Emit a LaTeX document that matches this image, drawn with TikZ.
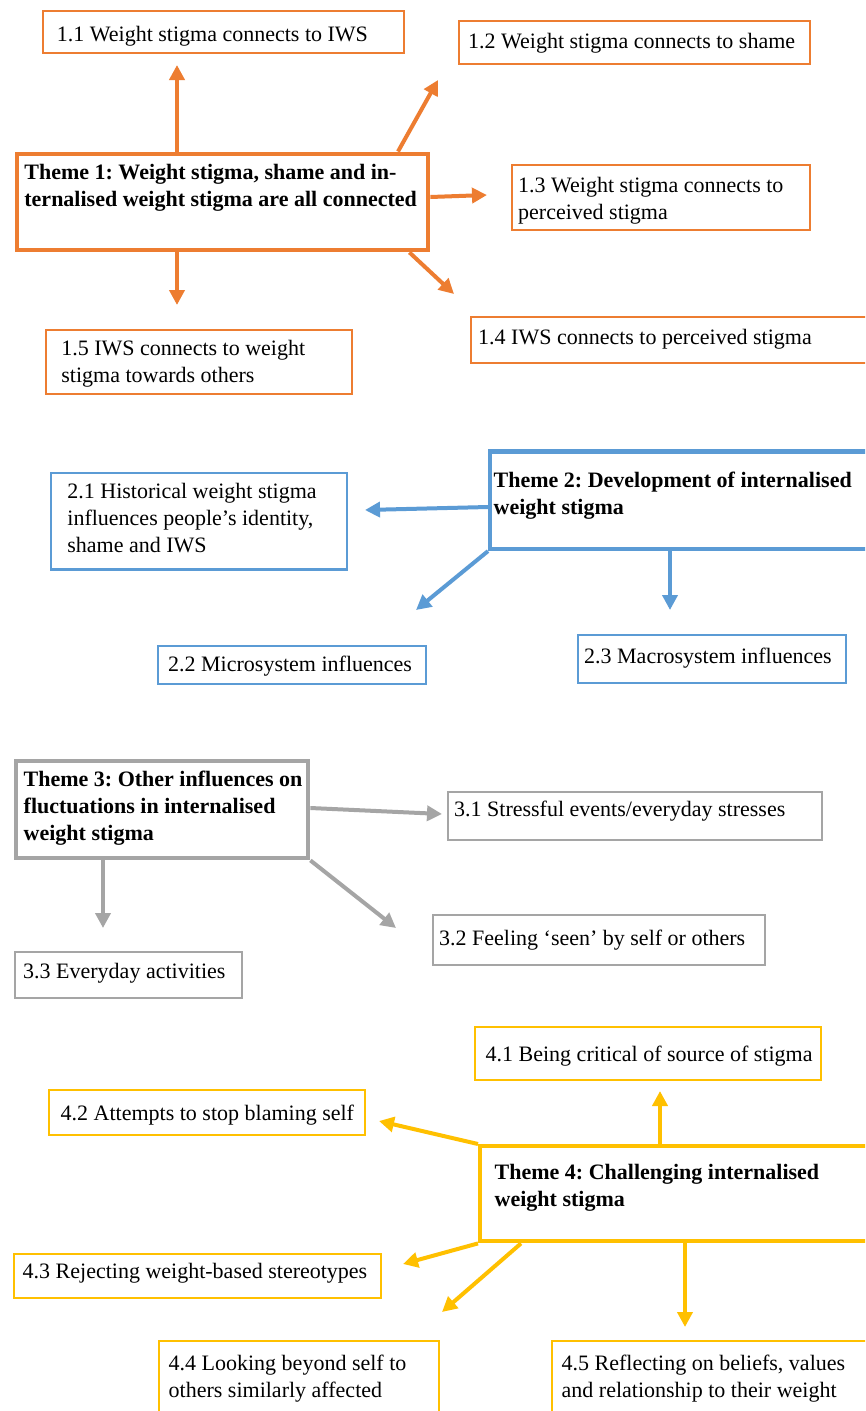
\documentclass[tikz,border=0pt]{standalone}
\usepackage{fontspec}
\setmainfont{Liberation Serif}
\usetikzlibrary{arrows.meta}
\definecolor{corange}{HTML}{ED7D31}
\definecolor{cblue}{HTML}{5B9BD5}
\definecolor{cgray}{HTML}{A5A5A5}
\definecolor{cyellow}{HTML}{FFC000}
\frenchspacing
\newcommand{\bt}[5]{\hspace*{#3pt}\parbox[c][#2pt][t]{\dimexpr #1pt-#3pt\relax}{\raggedright\frenchspacing\vspace*{#4pt}\strut #5}}
\begin{document}
\begin{tikzpicture}[x=1pt,y=-1pt,
  font=\fontsize{22}{27}\selectfont,
  sub/.style={draw=#1,line width=2.4pt,inner sep=0pt,anchor=north west},
  theme/.style={draw=#1,line width=4.4pt,inner sep=0pt,anchor=north west,font=\fontsize{22}{27}\selectfont\bfseries},
  arr/.style={draw=#1,line width=4pt,-{Triangle[length=15pt,width=15pt]}}]
\useasboundingbox (0,0) rectangle (865,1411);
\clip (0,0) rectangle (865,1411);
\fill[white] (0,0) rectangle (865,1411);
% Theme 1
\node[theme=corange] (t1) at (15,151.5) {\bt{411}{96.5}{7.2}{7.0}{Theme 1: Weight stigma, shame and in-\\ternalised weight stigma are all connected}};
\node[sub=corange] (b11) at (41.5,10) {\bt{361.5}{41.5}{14.2}{11.7}{1.1 Weight stigma connects to IWS}};
\node[sub=corange] (b12) at (458,20) {\bt{351}{43}{9}{8.2}{1.2 Weight stigma connects to shame}};
\node[sub=corange] (b13) at (511,164) {\bt{298}{65}{6}{8.2}{1.3 Weight stigma connects to\\perceived stigma}};
\node[sub=corange] (b14) at (470,316) {\bt{400}{46}{7}{8.2}{1.4 IWS connects to perceived stigma}};
\node[sub=corange] (b15) at (45,329) {\bt{305.7}{64}{15.2}{6.2}{1.5 IWS connects to weight\\stigma towards others}};
\coordinate (e11) at (177,65);
\coordinate (e12) at (438,80);
\coordinate (e13) at (487,195);
\coordinate (e14) at (454,294);
\coordinate (e15) at (177,305);
\draw[arr=corange] ([xshift=162pt]t1.north west) -- (e11);
\draw[arr=corange] ([xshift=383pt]t1.north west) -- (e12);
\draw[arr=corange] ([yshift=-45.5pt]t1.north east) -- (e13);
\draw[arr=corange] ([xshift=-21pt]t1.south east) -- (e14);
\draw[arr=corange] ([xshift=162pt]t1.south west) -- (e15);
% Theme 2
\node[theme=cblue] (t2) at (488,449.3) {\bt{382}{97.4}{3.5}{17}{Theme 2: Development of internalised\\weight stigma}};
\node[sub=cblue] (b21) at (50,471.7) {\bt{296}{96.6}{16.2}{6.8}{2.1 Historical weight stigma\\influences people’s identity,\\shame and IWS}};
\node[sub=cblue] (b22) at (157,645) {\bt{268}{38}{10}{6.2}{2.2 Microsystem influences}};
\node[sub=cblue] (b23) at (577,634) {\bt{268}{48}{6}{9.2}{2.3 Macrosystem influences}};
\coordinate (e21) at (365,510);
\coordinate (e22) at (416,610);
\coordinate (e23) at (670,610);
\draw[arr=cblue] ([yshift=-57.7pt]t2.north west) -- (e21);
\draw[arr=cblue] (t2.south west) -- (e22);
\draw[arr=cblue] ([xshift=182pt]t2.south west) -- (e23);
% Theme 3
\node[theme=cgray] (t3) at (14,759) {\bt{292}{97}{7.5}{6.2}{Theme 3: Other influences on\\fluctuations in internalised\\weight stigma}};
\node[sub=cgray] (b31) at (447,791) {\bt{374}{48}{6}{5.2}{3.1 Stressful events/everyday stresses}};
\node[sub=cgray] (b32) at (432,914) {\bt{332}{50}{6}{11.2}{3.2 Feeling ‘seen’ by self or others}};
\node[sub=cgray] (b33) at (14,951) {\bt{227}{46}{8}{7.2}{3.3 Everyday activities}};
\coordinate (e31) at (442,814);
\coordinate (e32) at (396,928);
\coordinate (e33) at (103,928);
\draw[arr=cgray] ([yshift=-49pt]t3.north east) -- (e31);
\draw[arr=cgray] (t3.south east) -- (e32);
\draw[arr=cgray] ([xshift=89pt]t3.south west) -- (e33);
% Theme 4
\node[theme=cyellow] (t4) at (478,1144) {\bt{392}{95}{14.5}{14.2}{Theme 4: Challenging internalised\\weight stigma}};
\node[sub=cyellow] (b41) at (474,1026) {\bt{346}{53}{10.5}{15.2}{4.1 Being critical of source of stigma}};
\node[sub=cyellow] (b42) at (48,1089) {\bt{316}{45}{11.5}{11.2}{4.2 Attempts to stop blaming self}};
\node[sub=cyellow] (b43) at (13,1253) {\bt{367}{44}{8.5}{5.2}{4.3 Rejecting weight-based stereotypes}};
\node[sub=cyellow] (b44) at (158,1340) {\bt{280}{80}{9.5}{10.2}{4.4 Looking beyond self to\\others similarly affected}};
\node[sub=cyellow] (b45) at (551,1340) {\bt{319}{80}{9.5}{10.2}{4.5 Reflecting on beliefs, values\\and relationship to their weight}};
\coordinate (e41) at (660,1091);
\coordinate (e42) at (379,1121);
\coordinate (e43) at (403,1264);
\coordinate (e44) at (442,1312);
\coordinate (e45) at (685,1327);
\draw[arr=cyellow] ([xshift=182pt]t4.north west) -- (e41);
\draw[arr=cyellow] (t4.north west) -- (e42);
\draw[arr=cyellow] (t4.south west) -- (e43);
\draw[arr=cyellow] ([xshift=43pt]t4.south west) -- (e44);
\draw[arr=cyellow] ([xshift=207pt]t4.south west) -- (e45);
\end{tikzpicture}
\end{document}
